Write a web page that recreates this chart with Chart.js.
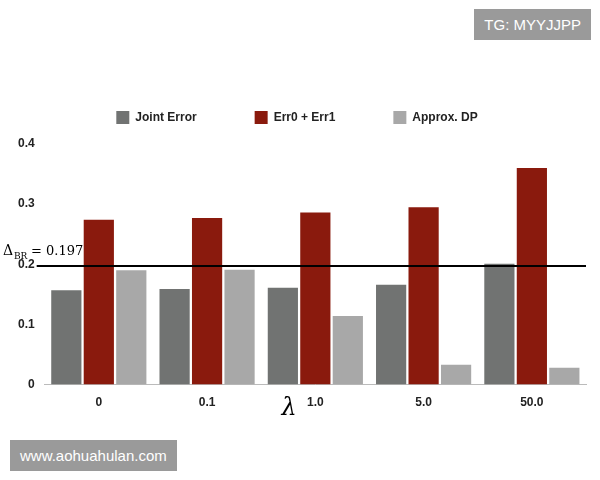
<!DOCTYPE html>
<html>
<head>
<meta charset="utf-8">
<script src="https://cdn.jsdelivr.net/npm/chart.js@4"></script>
<style>
  body { margin: 0; background: #fff; }
  #wrap { position: relative; width: 600px; height: 480px; }
  .wm { position: absolute; background: #9a9a9a; color: #fff; font: 15px "Liberation Sans", sans-serif; padding: 7px 10px; }
</style>
</head>
<body>
<div id="wrap">
  <canvas id="chart" width="600" height="480"></canvas>
  <div class="wm" style="right:9px; top:9px;">TG: MYYJJPP</div>
  <div class="wm" style="left:10px; top:440px;">www.aohuahulan.com</div>
</div>
<script>
const lambdas = ['0', '0.1', '1.0', '5.0', '50.0'];
const jointError = [0.157, 0.159, 0.161, 0.166, 0.201];
const errSum = [0.274, 0.277, 0.286, 0.295, 0.360];
const approxDP = [0.190, 0.191, 0.114, 0.033, 0.028];
const deltaBR = 0.197;

// horizontal reference line, its label and the lambda axis title
const extras = {
  id: 'extras',
  beforeInit(chart) {
    const fit = chart.legend.fit;
    chart.legend.fit = function () { fit.bind(chart.legend)(); this.height += 10; };
  },
  afterDatasetsDraw(chart) {
    const { ctx, chartArea, scales } = chart;
    const y = scales.y.getPixelForValue(deltaBR);
    ctx.save();
    ctx.strokeStyle = '#000';
    ctx.lineWidth = 2;
    ctx.beginPath();
    ctx.moveTo(chartArea.left - 8, y);
    ctx.lineTo(chartArea.right, y);
    ctx.stroke();
    ctx.fillStyle = '#000';
    ctx.font = '14px "DejaVu Serif", serif';
    ctx.textBaseline = 'bottom';
    ctx.fillText('\u0394', 3, y - 8);
    ctx.font = '9px "DejaVu Serif", serif';
    ctx.fillText('BR', 14, y - 5);
    ctx.font = '13px "DejaVu Serif", serif';
    ctx.fillText('= 0.197', 31, y - 8);
    ctx.font = 'italic 24px "DejaVu Serif", serif';
    ctx.textBaseline = 'middle';
    ctx.textAlign = 'center';
    ctx.fillText('\u03bb', 289, scales.x.bottom - 4);
    ctx.restore();
  }
};

new Chart(document.getElementById('chart'), {
  type: 'bar',
  data: {
    labels: lambdas,
    datasets: [
      { label: 'Joint Error', data: jointError, backgroundColor: '#717372' },
      { label: 'Err0 + Err1', data: errSum, backgroundColor: '#8a1a0d' },
      { label: 'Approx. DP', data: approxDP, backgroundColor: '#a8a8a8' }
    ]
  },
  options: {
    responsive: false,
    animation: false,
    layout: { padding: { top: 53, right: 14, bottom: 67, left: 8 } },
    plugins: {
      legend: {
        labels: {
          boxWidth: 13, boxHeight: 13, padding: 58,
          color: '#222', font: { family: 'Liberation Sans', size: 12, weight: 'bold' }
        }
      },
      tooltip: { enabled: false }
    },
    scales: {
      x: {
        grid: { display: false },
        border: { color: '#bbb' },
        ticks: { color: '#222', font: { family: 'Liberation Sans', size: 12, weight: 'bold' } }
      },
      y: {
        min: 0, max: 0.4,
        grid: { display: false, drawTicks: false },
        border: { display: false },
        ticks: { stepSize: 0.1, padding: 10, color: '#222', font: { family: 'Liberation Sans', size: 12, weight: 'bold' } }
      }
    },
    datasets: { bar: { categoryPercentage: 0.9, barPercentage: 0.93 } }
  },
  plugins: [extras]
});
</script>
</body>
</html>
